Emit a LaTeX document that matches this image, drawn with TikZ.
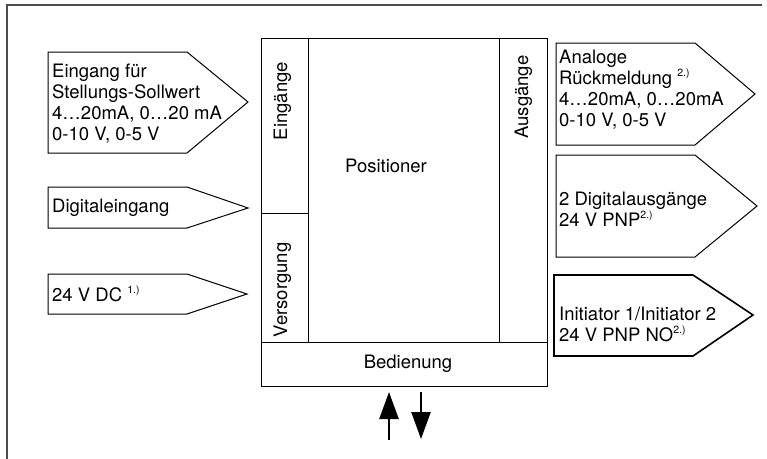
\documentclass[tikz,border=0pt]{standalone}
\usepackage{fontspec}
\setmainfont{TeX Gyre Heros}
\usetikzlibrary{arrows.meta}
\newcommand{\supr}[1]{\raisebox{0.8ex}{\fontsize{10.5}{10.5}\selectfont #1}}
\begin{document}
\begin{tikzpicture}[x=1pt,y=-1pt,
  sig/.style={draw=black,line width=1pt,line join=miter},
  sigbold/.style={draw=black,line width=1.6pt,line join=miter},
  blk/.style={draw=black,line width=1pt},
  frame/.style={draw=black!70,line width=1.6pt},
  txt/.style={font=\fontsize{18.5}{21}\selectfont,align=left,anchor=north west,inner sep=0pt},
  ctxt/.style={font=\fontsize{18.5}{21}\selectfont,inner sep=0pt,anchor=base},
  vtxt/.style={font=\fontsize{18.5}{21}\selectfont,inner sep=0pt,anchor=base,rotate=90},
  flow/.style={line width=2.6pt,-{Triangle[length=27pt,width=19pt]}}
]
\useasboundingbox (0,0) rectangle (767,458);
% outer frame (top and left only)
\draw[frame] (762,5) -- (7,5) -- (7,460);

% input signal boxes
\draw[sig] (48,52) -- (187,52) -- (248,102) -- (187,153) -- (48,153) -- cycle;
\draw[sig] (48,187) -- (187,187) -- (248,208) -- (187,228) -- (48,228) -- cycle;
\draw[sig] (48,274) -- (187,274) -- (247,294) -- (187,314) -- (48,314) -- cycle;
\node[txt] (in1) at (52,64) {Eingang für\\Stellungs-Sollwert\\4…20mA, 0…20 mA\\0-10 V, 0-5 V};
\node[txt] (in2) at (52,199) {Digitaleingang};
\node[txt] (in3) at (52,286) {24 V DC \supr{1.)}};

% output signal boxes
\draw[sig] (556,43) -- (695,43) -- (755,94) -- (695,145) -- (556,145) -- cycle;
\draw[sig] (556,155) -- (695,155) -- (757,206) -- (695,257) -- (556,257) -- cycle;
\draw[sigbold] (554,275) -- (693,275) -- (753,315) -- (693,356) -- (554,356) -- cycle;
\node[txt] (out1) at (559,50) {Analoge\\Rückmeldung \supr{2.)}\\4…20mA, 0…20mA\\0-10 V, 0-5 V};
\node[txt] (out2) at (559,192) {2 Digitalausgänge\\24 V PNP\supr{2.)}};
\node[txt] (out3) at (559,307) {Initiator 1/Initiator 2\\24 V PNP NO\supr{2.)}};

% positioner block
\draw[blk] (261,38) rectangle (547,386);
\draw[blk] (308,38) -- (308,342);
\draw[blk] (499,38) -- (499,342);
\draw[blk] (261,342) -- (547,342);
\draw[blk] (261,213) -- (308,213);
\node[ctxt] (pos) at (386,172) {Positioner};
\node[ctxt] (bed) at (408,368) {Bedienung};
\node[vtxt] (ein) at (287,101) {Eingänge};
\node[vtxt] (aus) at (528,97) {Ausgänge};
\node[vtxt] (ver) at (287,290) {Versorgung};

% operation arrows
\coordinate (upS) at (389,440);
\coordinate (upE) at (389,392);
\coordinate (dnS) at (421,392);
\coordinate (dnE) at (421,439);
\draw[flow] (upS) -- (upE);
\draw[flow] (dnS) -- (dnE);
\end{tikzpicture}
\end{document}
